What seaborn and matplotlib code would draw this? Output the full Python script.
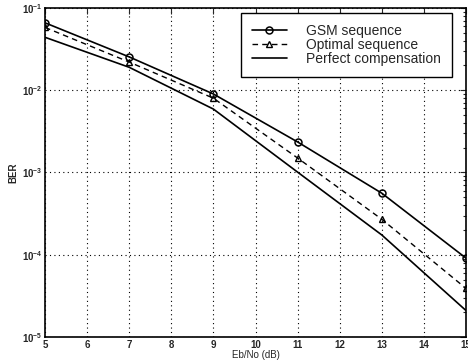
import numpy as np
import pandas as pd
import seaborn as sns
import matplotlib
matplotlib.use('Agg')
import matplotlib.pyplot as plt
from matplotlib.ticker import LogLocator, NullFormatter

# dados
ebno = [5, 7, 9, 11, 13, 15]
ber_gsm = [0.066, 0.0254, 0.0090, 0.00235, 5.6e-4, 9.1e-5]
ber_opt = [0.058, 0.022, 0.0080, 0.0015, 2.7e-4, 3.9e-5]
ber_perf = [0.044, 0.019, 0.0059, 0.00101, 1.74e-4, 2.1e-5]

nomes = ['GSM sequence', 'Optimal sequence', 'Perfect compensation']

sns.set_style('white')
plt.rcParams['font.family'] = ['Liberation Sans', 'DejaVu Sans']

fig = plt.figure(figsize=(4.68, 3.62), dpi=100)
ax = fig.add_axes([0.0962, 0.069, 0.8995, 0.909])

sns.lineplot(x=ebno, y=ber_gsm, ax=ax, color='black', lw=1.2, marker='o',
             markersize=5, markerfacecolor='none', markeredgecolor='black',
             markeredgewidth=1.1, label=nomes[0])
sns.lineplot(x=ebno, y=ber_opt, ax=ax, color='black', lw=1.0, marker='^',
             markersize=5, markerfacecolor='none', markeredgecolor='black',
             markeredgewidth=1.0, linestyle=(0, (4, 3)), label=nomes[1])
sns.lineplot(x=ebno, y=ber_perf, ax=ax, color='black', lw=1.2, label=nomes[2])

ax.set_yscale('log')
ax.set_xlim(5, 15)
ax.set_ylim(1e-5, 1e-1)
ax.set_xticks(range(5, 16))
ax.yaxis.set_major_locator(LogLocator(base=10, numticks=10))
ax.yaxis.set_minor_locator(LogLocator(base=10, subs=np.arange(2, 10), numticks=10))
ax.yaxis.set_minor_formatter(NullFormatter())

ax.grid(True, which='major', color='black', linestyle=(0, (1, 3)), lw=0.8)
ax.tick_params(which='both', direction='in', top=True, right=True,
               labelsize=7, width=0.8, pad=2)
ax.tick_params(which='major', length=4)
ax.tick_params(which='minor', length=2)
for lab in ax.get_xticklabels() + ax.get_yticklabels():
    lab.set_fontweight('bold')
for s in ax.spines.values():
    s.set_color('black')
    s.set_linewidth(1.2)

ax.set_xlabel('Eb/No (dB)', fontsize=7, labelpad=0)
ax.set_ylabel('BER', fontsize=7, fontweight='bold', labelpad=2)

# legenda posicionada em coordenadas da figura
leg = ax.legend(loc='upper right', bbox_to_anchor=(452 / 468, 1 - 13 / 362),
                bbox_transform=fig.transFigure, borderaxespad=0,
                fontsize=10, frameon=True, fancybox=False,
                borderpad=0.8, labelspacing=0.0, handlelength=2.5,
                handletextpad=1.4)
leg.get_frame().set_edgecolor('black')
leg.get_frame().set_linewidth(1.0)
leg.get_frame().set_alpha(1)

fig.savefig('out.png', dpi=100)
